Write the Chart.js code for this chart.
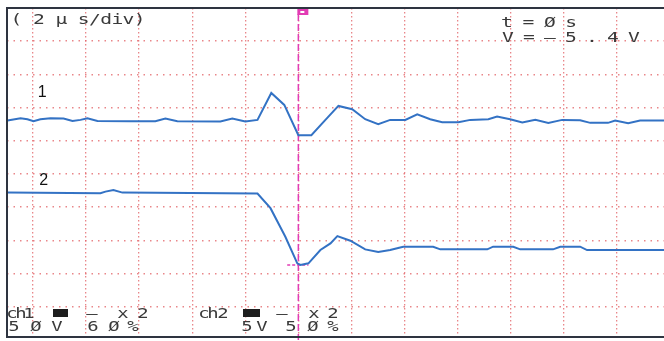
<!DOCTYPE html>
<html>
<head>
<meta charset="utf-8">
<script src="https://cdn.jsdelivr.net/npm/chart.js@4.4.1/dist/chart.umd.min.js"></script>
<style>
  html, body { margin: 0; padding: 0; background: #ffffff; }
  #wrap { width: 664px; height: 341px; }
</style>
</head>
<body>
<div id="wrap"><canvas id="c" width="664" height="341"></canvas></div>
<script>
// ---- data (time in µs, 2 µs/div; amplitude in screen divisions) ----
const ch1Time = [-10.96,-10.47,-10.21,-9.98,-9.72,-9.34,-8.85,-8.51,-8.21,-7.95,-7.57,-6.33,-5.39,-5.01,-4.56,-2.94,-2.49,-2.00,-1.54,-1.02,-0.53,0.00,0.49,1.02,1.51,2.03,2.52,3.01,3.46,4.03,4.48,4.97,5.42,6.03,6.48,7.16,7.49,7.98,8.44,8.93,9.42,9.94,10.62,11.00,11.67,11.94,12.43,12.88,13.78];
const ch1Div  = [6.61,6.68,6.65,6.59,6.65,6.68,6.67,6.60,6.63,6.68,6.60,6.59,6.59,6.67,6.59,6.58,6.67,6.58,6.63,7.44,7.08,6.17,6.17,6.63,7.05,6.95,6.65,6.50,6.63,6.63,6.80,6.65,6.56,6.56,6.63,6.65,6.73,6.65,6.55,6.63,6.54,6.63,6.62,6.54,6.54,6.61,6.53,6.61,6.61];
const ch2Time = [-10.96,-7.46,-7.27,-6.97,-6.63,-1.54,-1.05,-0.49,-0.04,0.08,0.38,0.83,1.21,1.47,1.96,2.52,3.01,3.46,3.95,5.08,5.35,7.12,7.34,8.10,8.36,9.60,9.87,10.62,10.88,13.78];
const ch2Div  = [4.44,4.42,4.47,4.52,4.44,4.41,3.97,3.11,2.31,2.26,2.31,2.71,2.91,3.13,2.99,2.73,2.65,2.71,2.81,2.81,2.73,2.73,2.81,2.81,2.73,2.73,2.81,2.81,2.71,2.71];
const timeGridTicks = [-10,-8,-6,-4,-2,0,2,4,6,8,10,12];
const divGridTicks  = [1,2,3,4,5,6,7,8,9];
const traceLabels = ["1", "2"];
const headerText = "( 2 µ s/div)";
const cursorText = ["t = Ø s", "V = – 5 . 4 V"];

const traceColor = '#3372c4';
const gridColor = 'rgba(228,104,108,0.8)';
const magenta = '#e23cb4';
const textColor = '#3a3a3a';

// draw one glyph centred at cx, horizontally stretched like the scope's LCD font
function glyph(ctx, ch, cx, y, sx) {
  ctx.save();
  ctx.translate(cx, y);
  ctx.scale(sx, 1);
  ctx.textAlign = 'center';
  ctx.fillText(ch, 0, 0);
  ctx.restore();
}
function spaced(ctx, str, cx0, step, y, sx) {
  for (let i = 0; i < str.length; i++) {
    if (str[i] !== ' ') glyph(ctx, str[i], cx0 + i * step, y, sx);
  }
}

const scopePlugin = {
  id: 'scope',
  beforeDatasetsDraw(chart) {
    const {ctx, chartArea: a, scales: {x, y}} = chart;
    ctx.save();
    const tx = x.getPixelForValue(0);
    ctx.strokeStyle = magenta;
    ctx.lineWidth = 1.5;
    ctx.setLineDash([7, 3]);
    ctx.beginPath();
    ctx.moveTo(tx, a.top + 6);
    ctx.lineTo(tx, a.bottom);
    ctx.stroke();
    const cy = y.getPixelForValue(2.26);
    ctx.setLineDash([3, 2]);
    ctx.beginPath();
    ctx.moveTo(x.getPixelForValue(-0.42), cy);
    ctx.lineTo(x.getPixelForValue(0.38), cy);
    ctx.stroke();
    ctx.restore();
  },
  afterDatasetsDraw(chart) {
    const {ctx, chartArea: a, scales: {x, y}} = chart;
    ctx.save();
    // frame
    ctx.strokeStyle = '#2e3440';
    ctx.lineWidth = 2;
    ctx.beginPath();
    ctx.moveTo(a.right, a.top);
    ctx.lineTo(a.left, a.top);
    ctx.lineTo(a.left, a.bottom - 3);
    ctx.lineTo(a.right, a.bottom - 3);
    ctx.stroke();
    // trigger flag
    const tx = x.getPixelForValue(0);
    ctx.fillStyle = magenta;
    ctx.fillRect(tx - 1, a.top + 1, 11, 6);
    ctx.fillStyle = '#ffffff';
    ctx.fillRect(tx + 2, a.top + 3, 4, 2);
    // trace labels
    ctx.fillStyle = '#111111';
    ctx.font = '16px "Liberation Sans", Arial, sans-serif';
    ctx.textAlign = 'left';
    ctx.textBaseline = 'alphabetic';
    ctx.fillText(traceLabels[0], x.getPixelForValue(-9.82), y.getPixelForValue(7.32));
    ctx.fillText(traceLabels[1], x.getPixelForValue(-9.76), y.getPixelForValue(4.67));
    // scope texts
    ctx.fillStyle = textColor;
    ctx.font = '14px "DejaVu Sans Mono", monospace';
    spaced(ctx, headerText, a.left + 9.5, 11.2, a.top + 16, 1.4);
    spaced(ctx, cursorText[0], a.left + 500, 10.7, a.top + 19, 1.4);
    spaced(ctx, cursorText[1], a.left + 501, 10.5, a.top + 34, 1.4);
    // bottom status
    const b1 = a.bottom - 22, b2 = a.bottom - 9;
    const put = (s, cx, yy) => glyph(ctx, s, a.left + cx, yy, 1.35);
    put('c', 5, b1); put('h', 14, b1); put('1', 22, b1);
    put('c', 197, b1); put('h', 206, b1); put('2', 216, b1);
    ctx.fillStyle = '#1e1e1e';
    ctx.fillRect(a.left + 46, b1 - 9, 15, 8);
    ctx.fillRect(a.left + 236, b1 - 9, 17, 8);
    ctx.fillStyle = textColor;
    put('–', 85, b1); put('x', 116, b1); put('2', 136, b1);
    put('–', 275, b1); put('x', 307, b1); put('2', 326, b1);
    put('5', 7, b2); put('Ø', 29, b2); put('V', 50, b2);
    put('6', 86, b2); put('Ø', 107, b2); put('%', 126, b2);
    put('5', 240, b2); put('V', 255, b2);
    put('5', 284, b2); put('Ø', 306, b2); put('%', 326, b2);
    ctx.restore();
  }
};

const ch1Points = ch1Time.map((t, i) => ({x: t, y: ch1Div[i]}));
const ch2Points = ch2Time.map((t, i) => ({x: t, y: ch2Div[i]}));

new Chart(document.getElementById('c'), {
  type: 'line',
  data: {
    datasets: [
      { label: 'ch1', data: ch1Points, borderColor: traceColor, borderWidth: 2, pointRadius: 0, tension: 0, fill: false },
      { label: 'ch2', data: ch2Points, borderColor: traceColor, borderWidth: 2, pointRadius: 0, tension: 0, fill: false }
    ]
  },
  options: {
    responsive: false,
    animation: false,
    devicePixelRatio: 1,
    layout: { padding: { left: 7, top: 8, right: 0, bottom: 1 } },
    plugins: { legend: { display: false }, tooltip: { enabled: false }, title: { display: false } },
    scales: {
      x: {
        type: 'linear', min: -10.98, max: 13.78,
        afterBuildTicks: s => { s.ticks = timeGridTicks.map(v => ({value: v})); },
        ticks: { display: false },
        grid: { color: gridColor, lineWidth: 1.3, drawTicks: false },
        border: { display: false, dash: [1.5, 2.5] }
      },
      y: {
        type: 'linear', min: 0, max: 10,
        afterBuildTicks: s => { s.ticks = divGridTicks.map(v => ({value: v})); },
        ticks: { display: false },
        grid: { color: gridColor, lineWidth: 1.5, drawTicks: false },
        border: { display: false, dash: [1.5, 5] }
      }
    }
  },
  plugins: [scopePlugin]
});
</script>
</body>
</html>
